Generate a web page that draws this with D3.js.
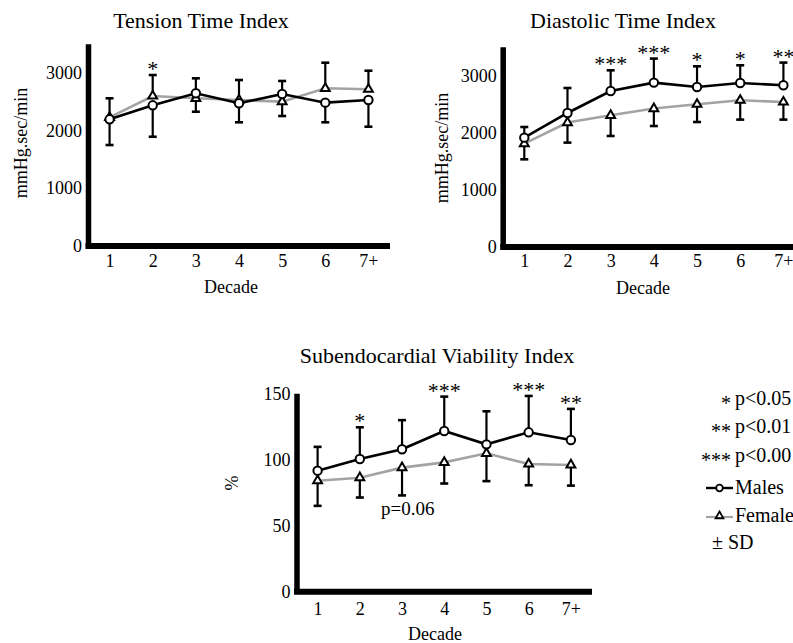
<!DOCTYPE html>
<html>
<head>
<meta charset="UTF-8" />
<title>Time indices by decade</title>
<script src="https://d3js.org/d3.v7.min.js"></script>
<style>
  html, body { margin: 0; padding: 0; background: #fff; }
  svg { display: block; }
  svg text { font-family: "Liberation Serif", "DejaVu Serif", serif; }
</style>
</head>
<body>
<div id="chart"></div>
<script>
// data
const decades = ["1", "2", "3", "4", "5", "6", "7+"];

const ttiMale = [2192, 2434, 2642, 2469, 2630, 2480, 2526];
const ttiMaleSD = [445, 544, 259, 329, 225, 340, 462];
const ttiFemale = [2226, 2595, 2555, 2526, 2497, 2728, 2711];
const ttiFemaleSD = [329, 363, 232, 346, 248, 443, 322];
const ttiStars = ["", "*", "", "", "", "", ""];

const dtiMale = [1912, 2343, 2727, 2874, 2797, 2867, 2827];
const dtiMaleSD = [186, 437, 362, 420, 362, 310, 397];
const dtiFemale = [1808, 2175, 2302, 2420, 2495, 2565, 2535];
const dtiFemaleSD = [275, 350, 361, 305, 310, 338, 308];
const dtiStars = ["", "", "***", "***", "*", "*", "**"];

const sviMale = [91.5, 100.3, 107.7, 121.5, 111.4, 120.5, 114.7];
const sviMaleSD = [18, 24, 22, 26, 25, 27.5, 23.5];
const sviFemale = [83.9, 86.2, 93.8, 97.8, 104.6, 96.5, 95.8];
const sviFemaleSD = [19, 15, 21, 16, 21, 16, 15.6];
const sviStars = ["", "*", "", "***", "", "***", "**"];

const ttiTicks = [0, 1000, 2000, 3000];
const dtiTicks = [0, 1000, 2000, 3000];
const sviTicks = [0, 50, 100, 150];

const legendStars = ["*", "**", "***"];
const legendP = ["p<0.05", "p<0.01", "p<0.001"];

const W = 793, H = 643;
const serif = "Liberation Serif";
const svg = d3.select("#chart").append("svg")
  .attr("width", W).attr("height", H)
  .attr("font-family", serif);
svg.append("rect").attr("width", W).attr("height", H).attr("fill", "#fff");

const femaleGrey = "#a3a3a3";

function panel(o) {
  const g = svg.append("g");
  const x = d3.scalePoint().domain(decades).range(o.xr).padding(0.5);
  const y = d3.scaleLinear().domain(o.yd).range(o.yr);

  // y axis
  const ya = g.append("g")
    .attr("transform", `translate(${o.xr[0]},0)`)
    .call(d3.axisLeft(y).tickValues(o.ticks).tickFormat(d3.format("d"))
      .tickSize(0).tickSizeOuter(0).tickPadding(6));
  ya.attr("font-family", serif);
  ya.select(".domain").attr("stroke", "#000").attr("stroke-width", 5.5);
  ya.selectAll("text").attr("font-size", 18).attr("fill", "#000");

  // x axis
  const xa = g.append("g")
    .attr("transform", `translate(0,${o.yr[0]})`)
    .call(d3.axisBottom(x).tickSize(0).tickSizeOuter(0).tickPadding(o.xpad));
  xa.attr("font-family", serif);
  xa.select(".domain").attr("stroke", "#000").attr("stroke-width", 6)
    .attr("d", `M${o.xr[0] - 2.5},0H${o.xr[1]}`);
  xa.selectAll("text").attr("font-size", 18).attr("fill", "#000");

  // titles
  g.append("text").attr("x", o.title[1]).attr("y", o.title[2])
    .attr("text-anchor", "middle").attr("font-size", 22).text(o.title[0]);
  g.append("text").attr("x", o.dec[0]).attr("y", o.dec[1])
    .attr("text-anchor", "middle").attr("font-size", 18).text("Decade");
  g.append("text").attr("transform", `translate(${o.yl[1]},${o.yl[2]}) rotate(-90)`)
    .attr("text-anchor", "middle").attr("dominant-baseline", "central")
    .attr("font-size", 18).text(o.yl[0]);

  // error bars, higher group goes up
  const bars = [];
  decades.forEach((d, i) => {
    const mUp = o.m[i] >= o.f[i];
    bars.push({ d, v: o.m[i], e: mUp ? o.m[i] + o.msd[i] : o.m[i] - o.msd[i] });
    bars.push({ d, v: o.f[i], e: mUp ? o.f[i] - o.fsd[i] : o.f[i] + o.fsd[i] });
  });
  const eb = g.append("g").attr("stroke", "#000").attr("stroke-width", 2.2);
  eb.selectAll("line.v").data(bars).join("line")
    .attr("x1", b => x(b.d)).attr("x2", b => x(b.d))
    .attr("y1", b => y(b.v)).attr("y2", b => y(b.e));
  eb.selectAll("line.c").data(bars).join("line")
    .attr("x1", b => x(b.d) - 4).attr("x2", b => x(b.d) + 4)
    .attr("y1", b => y(b.e)).attr("y2", b => y(b.e))
    .attr("stroke-width", 2.6);

  const line = d3.line().x((v, i) => x(decades[i])).y(v => y(v));
  g.append("path").datum(o.f).attr("d", line)
    .attr("fill", "none").attr("stroke", femaleGrey).attr("stroke-width", 2.6);
  g.append("path").datum(o.m).attr("d", line)
    .attr("fill", "none").attr("stroke", "#000").attr("stroke-width", 2.6);

  const tri = d3.symbol().type(d3.symbolTriangle).size(34);
  g.selectAll("path.tri").data(o.f).join("path")
    .attr("transform", (v, i) => `translate(${x(decades[i])},${y(v)})`)
    .attr("d", tri).attr("fill", "#fff").attr("stroke", "#000").attr("stroke-width", 2);
  g.selectAll("circle.m").data(o.m).join("circle")
    .attr("cx", (v, i) => x(decades[i])).attr("cy", v => y(v)).attr("r", 4.2)
    .attr("fill", "#fff").attr("stroke", "#000").attr("stroke-width", 2);

  // significance stars above the upper bar
  g.selectAll("text.star").data(o.stars).join("text")
    .attr("x", (s, i) => x(decades[i]))
    .attr("y", (s, i) => y(Math.max(o.m[i] + (o.m[i] >= o.f[i] ? o.msd[i] : 0),
                                     o.f[i] + (o.f[i] > o.m[i] ? o.fsd[i] : 0))) + 1)
    .attr("text-anchor", "middle").attr("font-size", 22)
    .text(s => s);
  return { x, y, g };
}

panel({
  xr: [88, 390], yr: [246, 43.7], yd: [0, 3500], ticks: ttiTicks, xpad: 8,
  m: ttiMale, msd: ttiMaleSD, f: ttiFemale, fsd: ttiFemaleSD, stars: ttiStars,
  title: ["Tension Time Index", 201, 28], dec: [231, 293], yl: ["mmHg.sec/min", 21, 143]
});
panel({
  xr: [502.7, 805], yr: [247, 46.8], yd: [0, 3500], ticks: dtiTicks, xpad: 7,
  m: dtiMale, msd: dtiMaleSD, f: dtiFemale, fsd: dtiFemaleSD, stars: dtiStars,
  title: ["Diastolic Time Index", 623, 28], dec: [643, 294], yl: ["mmHg.sec/min", 442, 148]
});
const svi = panel({
  xr: [296.5, 592], yr: [591.7, 393.3], yd: [0, 150], ticks: sviTicks, xpad: 11,
  m: sviMale, msd: sviMaleSD, f: sviFemale, fsd: sviFemaleSD, stars: sviStars,
  title: ["Subendocardial Viability Index", 437, 363], dec: [435, 640], yl: ["%", 232, 483]
});
svi.g.append("text").attr("x", 381).attr("y", 515).attr("font-size", 19).text("p=0.06");

// legend
const lg = svg.append("g").attr("font-size", 20);
legendStars.forEach((s, i) => {
  const yy = 405 + i * 28.3;
  lg.append("text").attr("x", 731).attr("y", yy + 5).attr("text-anchor", "end")
    .attr("font-size", 20).text(s);
  lg.append("text").attr("x", 735).attr("y", yy).text(legendP[i]);
});
lg.append("line").attr("x1", 706).attr("x2", 733).attr("y1", 488).attr("y2", 488)
  .attr("stroke", "#000").attr("stroke-width", 2.4);
lg.append("circle").attr("cx", 719.5).attr("cy", 488).attr("r", 3.3)
  .attr("fill", "#fff").attr("stroke", "#000").attr("stroke-width", 1.8);
lg.append("text").attr("x", 735).attr("y", 493.5).text("Males");
lg.append("line").attr("x1", 706).attr("x2", 733).attr("y1", 517).attr("y2", 517)
  .attr("stroke", femaleGrey).attr("stroke-width", 2.2);
lg.append("path").attr("transform", "translate(719.5,516)")
  .attr("d", d3.symbol().type(d3.symbolTriangle).size(26))
  .attr("fill", "#fff").attr("stroke", "#000").attr("stroke-width", 1.8);
lg.append("text").attr("x", 735).attr("y", 522).text("Female");
lg.append("text").attr("x", 712).attr("y", 548.5).text("± SD");
</script>
</body>
</html>
